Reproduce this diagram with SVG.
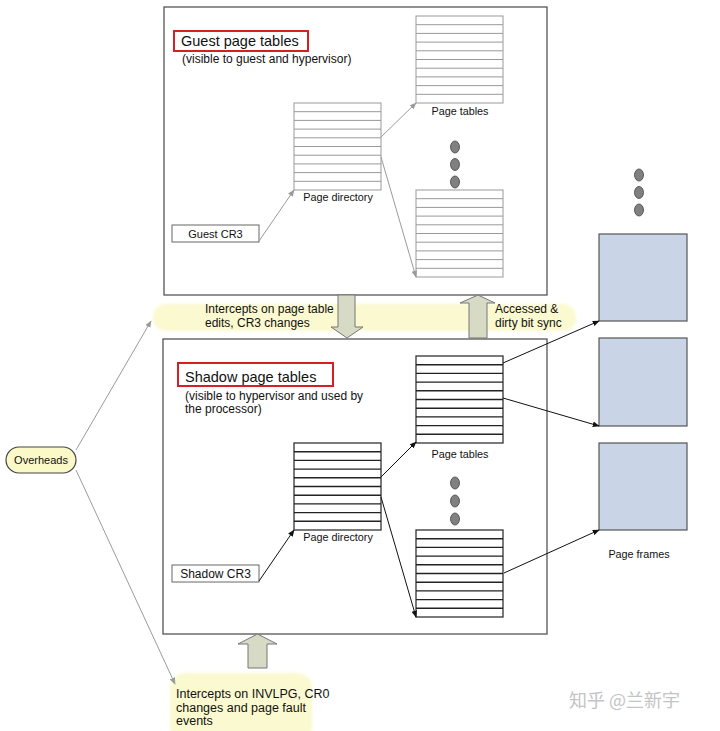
<svg xmlns="http://www.w3.org/2000/svg" xmlns:xlink="http://www.w3.org/1999/xlink" width="720" height="731" viewBox="0 0 720 731">
<style>
text{font-family:"Liberation Sans",Arial,sans-serif;fill:#111}
.box{fill:#fff;stroke:#555;stroke-width:1.3}
.red{fill:none;stroke:#d42020;stroke-width:2}
.cr3{fill:#fff;stroke:#666;stroke-width:1}
.gt{fill:#fff;stroke:#999;stroke-width:1}
.st{fill:#fff;stroke:#333;stroke-width:1.3}
.dot{fill:#808080;stroke:#444;stroke-width:0.8}
.frame{fill:#c9d5e6;stroke:#555;stroke-width:1.2}
.band{fill:#fbf9cf}
.blk{fill:#d7dac4;stroke:#777;stroke-width:1}
.ga{fill:none;stroke:#9a9a9a;stroke-width:1;marker-end:url(#mg)}
.ka{fill:none;stroke:#111;stroke-width:1;marker-end:url(#mk)}
.ov{fill:#fbf9c8;stroke:#444;stroke-width:1.2}
</style>
<defs>
<marker id="mg" viewBox="0 0 10 10" refX="9" refY="5" markerWidth="7" markerHeight="7" orient="auto" markerUnits="userSpaceOnUse"><path d="M0,1 L10,5 L0,9 z" fill="#9a9a9a"/></marker>
<marker id="mk" viewBox="0 0 10 10" refX="9" refY="5" markerWidth="7" markerHeight="7" orient="auto" markerUnits="userSpaceOnUse"><path d="M0,1 L10,5 L0,9 z" fill="#111"/></marker>
<g id="gtab"><rect class="gt" x="0" y="0" width="87" height="87"/><path d="M0,8.7H87M0,17.4H87M0,26.1H87M0,34.8H87M0,43.5H87M0,52.2H87M0,60.9H87M0,69.6H87M0,78.3H87" stroke="#999" stroke-width="1"/></g>
<g id="stab"><rect class="st" x="0" y="0" width="87" height="87"/><path d="M0,8.7H87M0,17.4H87M0,26.1H87M0,34.8H87M0,43.5H87M0,52.2H87M0,60.9H87M0,69.6H87M0,78.3H87" stroke="#222" stroke-width="1.4"/></g>
<filter id="soft" x="-5%" y="-30%" width="110%" height="160%"><feGaussianBlur stdDeviation="1.5"/></filter>
</defs>
<rect width="720" height="731" fill="#fff"/>

<g id="band-top"><rect class="band" x="153" y="304" width="423" height="27" rx="13" filter="url(#soft)"/>
<text x="205" y="313" font-size="12">Intercepts on page table</text>
<text x="205" y="327" font-size="12">edits, CR3 changes</text>
<text x="495" y="313" font-size="12">Accessed &amp;</text>
<text x="495" y="327" font-size="12">dirty bit sync</text></g>

<g id="guest-box"><rect class="box" x="164" y="7" width="383" height="288"/>
<rect class="red" x="174" y="31" width="134" height="20"/>
<text x="181" y="46" font-size="14.5">Guest page tables</text>
<text x="182" y="63" font-size="12">(visible to guest and hypervisor)</text></g>

<g id="guest-pd"><use xlink:href="#gtab" x="294" y="103"/><text x="338" y="201" font-size="10.8" text-anchor="middle">Page directory</text></g>
<g id="guest-pt1"><use xlink:href="#gtab" x="416" y="16"/><text x="460" y="115" font-size="10.8" text-anchor="middle">Page tables</text></g>
<g id="guest-dots"><ellipse class="dot" cx="455" cy="147" rx="4.5" ry="6"/><ellipse class="dot" cx="455" cy="164.5" rx="4.5" ry="6"/><ellipse class="dot" cx="455" cy="182" rx="4.5" ry="6"/></g>
<g id="guest-pt2"><use xlink:href="#gtab" x="416" y="190"/></g>
<g id="guest-cr3"><rect class="cr3" x="172" y="225" width="87" height="17"/><text x="215.5" y="238" font-size="11" text-anchor="middle">Guest CR3</text></g>

<g id="shadow-box"><rect class="box" x="163" y="339" width="384" height="295"/>
<rect class="red" x="178" y="363" width="155" height="23"/>
<text x="185" y="382" font-size="14.5">Shadow page tables</text>
<text x="185" y="400" font-size="12">(visible to hypervisor and used by</text>
<text x="185" y="413" font-size="12">the processor)</text></g>

<g id="shadow-pt1"><use xlink:href="#stab" x="416" y="356"/><text x="460" y="458" font-size="10.8" text-anchor="middle">Page tables</text></g>
<g id="shadow-pd"><use xlink:href="#stab" x="294" y="443"/><text x="338" y="541" font-size="10.8" text-anchor="middle">Page directory</text></g>
<g id="shadow-dots"><ellipse class="dot" cx="455" cy="483" rx="4.5" ry="6"/><ellipse class="dot" cx="455" cy="501" rx="4.5" ry="6"/><ellipse class="dot" cx="455" cy="519" rx="4.5" ry="6"/></g>
<g id="shadow-pt2"><use xlink:href="#stab" x="416" y="530"/></g>
<g id="shadow-cr3"><rect class="cr3" x="172" y="565" width="87" height="17"/><text x="215.5" y="578" font-size="12" text-anchor="middle">Shadow CR3</text></g>

<g id="frame-dots"><ellipse class="dot" cx="639" cy="175" rx="4.5" ry="6"/><ellipse class="dot" cx="639" cy="192.5" rx="4.5" ry="6"/><ellipse class="dot" cx="639" cy="210" rx="4.5" ry="6"/></g>
<g id="frame1"><rect class="frame" x="599" y="234" width="88" height="87"/></g>
<g id="frame2"><rect class="frame" x="599" y="338" width="88" height="88"/></g>
<g id="frame3"><rect class="frame" x="599" y="443" width="88" height="87"/><text x="639" y="558" font-size="10.8" text-anchor="middle">Page frames</text></g>

<g id="overheads"><rect class="ov" x="6" y="447" width="70" height="26" rx="13"/><text x="41" y="464" font-size="11" text-anchor="middle">Overheads</text></g>

<g id="band-bottom"><rect class="band" x="170" y="673" width="142" height="70" rx="15" filter="url(#soft)"/>
<text x="176" y="698" font-size="12.5">Intercepts on INVLPG, CR0</text>
<text x="176" y="712" font-size="12.5">changes and page fault</text>
<text x="176" y="725" font-size="12.5">events</text></g>

<g id="connectors">
<path class="ga" d="M259,241 L294,190"/>
<path class="ga" d="M381,137 L416,103"/>
<path class="ga" d="M381,157 L416,277"/>
<path class="ka" d="M259,581 L294,530"/>
<path class="ka" d="M381,477 L416,442"/>
<path class="ka" d="M381,497 L416,617"/>
<path class="ka" d="M503,363 L599,321"/>
<path class="ka" d="M503,398 L599,426"/>
<path class="ka" d="M504,573 L599,530"/>
<path class="ga" d="M76,450 L151,321"/>
<path class="ga" d="M76,470 L175,684"/>
<path class="blk" d="M338,295 H355 V327 H363 L347,338 L331,327 H338 Z"/>
<path class="blk" d="M469,338 V303 H460 L478,295 L495,303 H487 V338 Z"/>
<path class="blk" d="M248,668 V644 H238 L257.5,634 L277,644 H267 V668 Z"/>
</g>

<g id="watermark"><text x="569" y="707" font-size="18" style="font-family:'Noto Sans CJK SC','Liberation Sans',sans-serif;fill:#c4c4c4">知乎 @兰新宇</text></g>
</svg>
